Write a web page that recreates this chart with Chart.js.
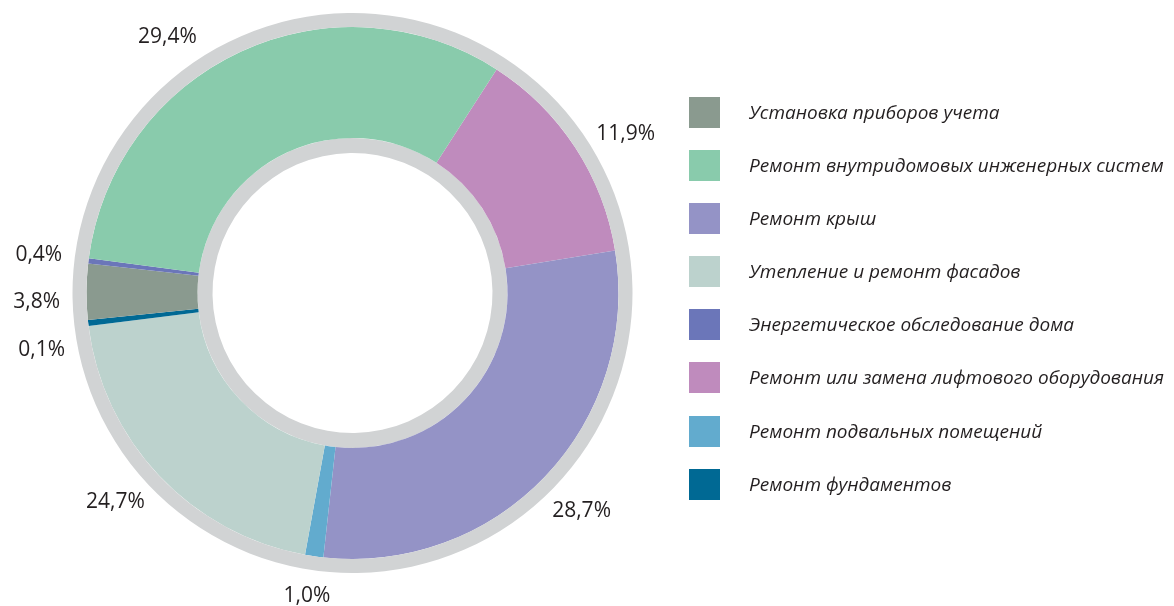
<!DOCTYPE html>
<html>
<head>
<meta charset="utf-8">
<script src="https://cdn.jsdelivr.net/npm/chart.js@4"></script>
<style>
  html, body { margin: 0; padding: 0; background: #fff; }
  #wrap { position: relative; width: 1174px; height: 606px; overflow: hidden; }
  #chart { position: absolute; left: 0; top: 0; }
  #legend {
    position: absolute; left: 689px; top: 97px;
    font-family: "Open Sans", sans-serif; font-style: italic; font-size: 19px;
    color: #231f20;
  }
  .item { position: relative; height: 53.1px; }
  .box { position: absolute; left: 0; top: 0; width: 31px; height: 31px; }
  .text { position: absolute; left: 60px; top: 0; line-height: 31px; white-space: nowrap; }
</style>
</head>
<body>
<div id="wrap">
  <canvas id="chart" width="1174" height="606"></canvas>
  <div id="legend"></div>
</div>
<script>
// legend order
const categories = [
    "Установка приборов учета",
    "Ремонт внутридомовых инженерных систем",
    "Ремонт крыш",
    "Утепление и ремонт фасадов",
    "Энергетическое обследование дома",
    "Ремонт или замена лифтового оборудования",
    "Ремонт подвальных помещений",
    "Ремонт фундаментов"
];
// share of the ring each slice takes in the picture (%)
const drawnShare = [3.39, 32.03, 29.31, 20.17, 0.31, 13.33, 1.11, 0.36];
// printed labels
const percentLabels = ["3,8%", "29,4%", "28,7%", "24,7%", "0,4%", "11,9%", "1,0%", "0,1%"];
const colors = ["#8a9a8f", "#89cbac", "#9493c6", "#bcd2cd", "#6b76b9", "#bf8bbd", "#62abce", "#006994"];
// slices clockwise, starting at the green/pink border
const ringOrder = [5, 2, 6, 3, 7, 0, 4, 1];

const ringGrey = "#d1d3d4";

// legend
const legend = document.getElementById("legend");
categories.forEach(function (name, i) {
    const item = document.createElement("div");
    item.className = "item";
    item.innerHTML = '<div class="box" style="background:' + colors[i] + '"></div>' +
        '<div class="text">' + name + '</div>';
    legend.appendChild(item);
});

const outsideLabels = {
    id: "outsideLabels",
    afterDatasetsDraw(chart, args, opts) {
        const ctx = chart.ctx;
        const meta = chart.getDatasetMeta(1);
        ctx.save();
        ctx.font = '21px "Open Sans"';
        ctx.fillStyle = "#231f20";
        ctx.textAlign = "center";
        ctx.textBaseline = "middle";
        meta.data.forEach(function (arc, k) {
            const a = (arc.startAngle + arc.endAngle) / 2 + opts.nudge[k] * Math.PI / 180;
            let x = arc.x + Math.cos(a) * opts.radius;
            let y = arc.y + Math.sin(a) * opts.radius;
            y = Math.min(Math.max(y, 12), chart.height - 10);
            ctx.fillText(percentLabels[ringOrder[k]], x, y);
        });
        ctx.restore();
    }
};

const chart = new Chart("chart", {
    type: "doughnut",
    data: {
        labels: ringOrder.map(i => categories[i]),
        datasets: [{
            data: [1],
            backgroundColor: ringGrey,
            borderWidth: 0,
            weight: 14
        }, {
            data: ringOrder.map(i => drawnShare[i]),
            backgroundColor: ringOrder.map(i => colors[i]),
            borderWidth: 0,
            weight: 111
        }, {
            data: [1],
            backgroundColor: ringGrey,
            borderWidth: 0,
            weight: 15
        }]
    },
    options: {
        responsive: false,
        animation: false,
        cutout: "50%",
        rotation: 32.8,
        hoverOffset: 0,
        layout: {
            padding: { left: 72, right: 541, top: 13, bottom: 33 }
        },
        plugins: {
            legend: { display: false },
            tooltip: { enabled: false },
            outsideLabels: {
                radius: 316,
                nudge: [3, 0, 0, 2, -4, -2, 0, -11]
            }
        }
    },
    plugins: [outsideLabels]
});
</script>
</body>
</html>
